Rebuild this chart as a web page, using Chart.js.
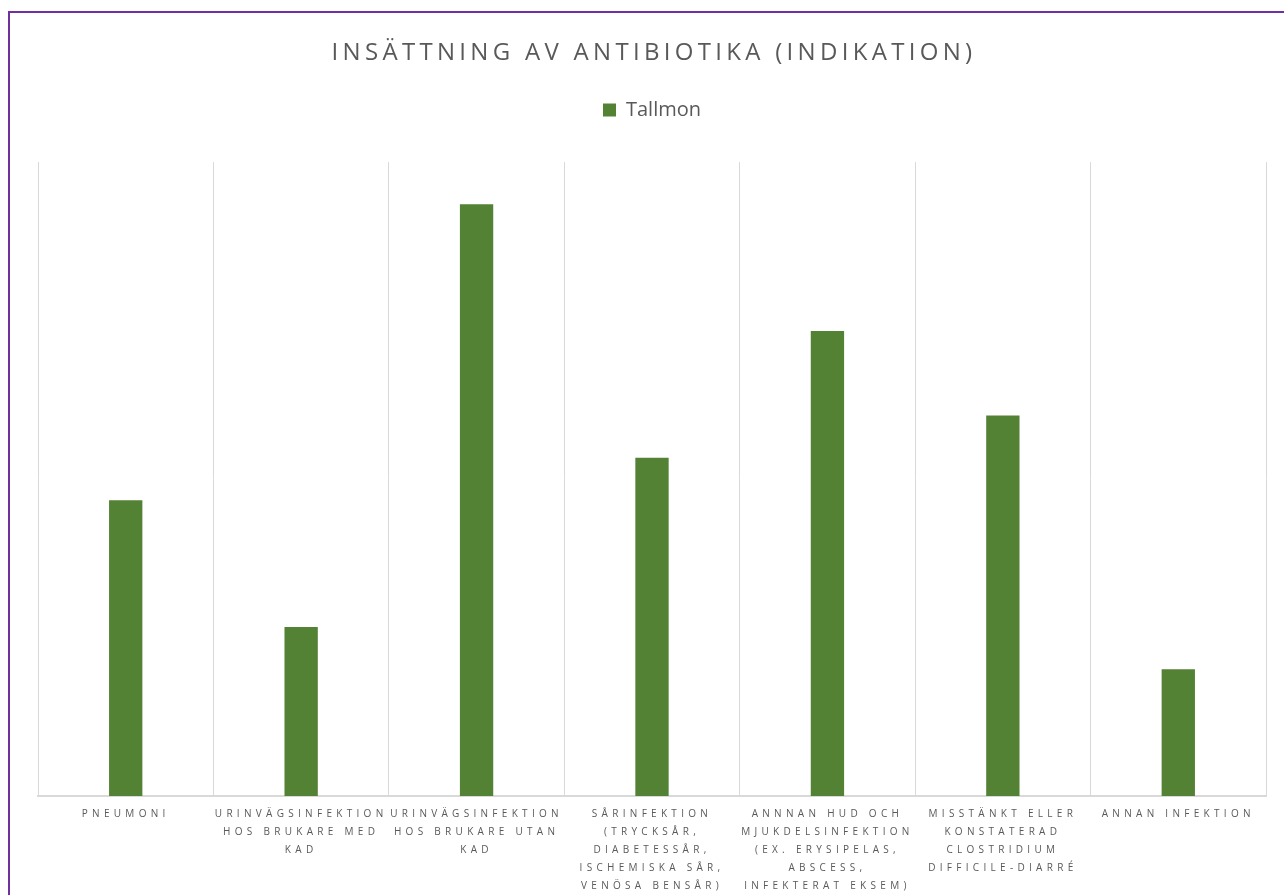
<!DOCTYPE html>
<html>
<head>
<meta charset="utf-8">
<script src="https://cdn.jsdelivr.net/npm/chart.js@4.4.1/dist/chart.umd.min.js"></script>
<style>
  html, body { margin: 0; padding: 0; background: #ffffff; overflow: hidden; }
  #wrap { position: relative; width: 1284px; height: 895px; }
  #frame { position: absolute; left: 8px; top: 11px; width: 1400px; height: 1000px;
           border-left: 2px solid #7030A0; border-top: 2px solid #7030A0; pointer-events: none; }
  canvas { position: absolute; left: 0; top: 0; }
</style>
</head>
<body>
<div id="wrap">
  <canvas id="c" width="1284" height="895"></canvas>
  <div id="frame"></div>
</div>
<script>
const TITLE = "INSÄTTNING AV ANTIBIOTIKA (INDIKATION)";
const SERIES_NAME = "Tallmon";
const CATEGORIES = [
  ["PNEUMONI"],
  ["URINVÄGSINFEKTION", "HOS BRUKARE MED", "KAD"],
  ["URINVÄGSINFEKTION", "HOS BRUKARE UTAN", "KAD"],
  ["SÅRINFEKTION", "(TRYCKSÅR,", "DIABETESSÅR,", "ISCHEMISKA SÅR,", "VENÖSA BENSÅR)"],
  ["ANNNAN HUD OCH", "MJUKDELSINFEKTION", "(EX. ERYSIPELAS,", "ABSCESS,", "INFEKTERAT EKSEM)"],
  ["MISSTÄNKT ELLER", "KONSTATERAD", "CLOSTRIDIUM", "DIFFICILE-DIARRÉ"],
  ["ANNAN INFEKTION"]
];
const VALUES = [7, 4, 14, 8, 11, 9, 3];
const Y_MAX = 15;

const TEXT_COLOR = "#595959";
const BAR_COLOR = "#548235";
const GRID_COLOR = "#d9d9d9";

const spacingPlugin = {
  id: "spacing",
  beforeInit(chart) {
    const lg = chart.legend;
    if (lg) {
      const origFit = lg.fit;
      lg.fit = function () { origFit.call(this); this.height += 32; };
    }
  },
  beforeDraw(chart) { chart.ctx.letterSpacing = "0px"; },
  afterDatasetsDraw(chart) { chart.ctx.letterSpacing = "4.3px"; },
  afterDraw(chart) {
    const ctx = chart.ctx;
    ctx.save();
    ctx.letterSpacing = "4.3px";
    ctx.font = "24px 'Open Sans'";
    ctx.fillStyle = TEXT_COLOR;
    ctx.textAlign = "center";
    ctx.textBaseline = "middle";
    const cx = (chart.chartArea.left + chart.chartArea.right) / 2 + 2;
    ctx.fillText(TITLE, cx, 53);
    ctx.restore();
    ctx.letterSpacing = "0px";
  }
};

new Chart(document.getElementById("c"), {
  type: "bar",
  data: {
    labels: CATEGORIES,
    datasets: [{
      label: SERIES_NAME,
      data: VALUES,
      backgroundColor: BAR_COLOR,
      borderWidth: 0,
      categoryPercentage: 1.0,
      barPercentage: 0.19
    }]
  },
  options: {
    responsive: false,
    animation: false,
    layout: { padding: { top: 90, left: 38, right: 18, bottom: -9 } },
    plugins: {
      title: { display: false },
      tooltip: { enabled: false },
      legend: {
        display: true,
        position: "top",
        labels: {
          boxWidth: 13,
          boxHeight: 13,
          padding: 10,
          color: TEXT_COLOR,
          font: { family: "'Open Sans'", size: 20 }
        }
      }
    },
    scales: {
      x: {
        offset: true,
        grid: { display: true, offset: true, color: GRID_COLOR, lineWidth: 1, drawTicks: false },
        border: { display: true, color: GRID_COLOR, width: 2 },
        ticks: {
          z: 1,
          color: TEXT_COLOR,
          font: { family: "'Open Sans'", size: 10, lineHeight: 1.8 },
          padding: 9,
          maxRotation: 0,
          minRotation: 0,
          autoSkip: false
        }
      },
      y: {
        display: false,
        min: 0,
        max: Y_MAX,
        grid: { display: false }
      }
    }
  },
  plugins: [spacingPlugin]
});
</script>
</body>
</html>
